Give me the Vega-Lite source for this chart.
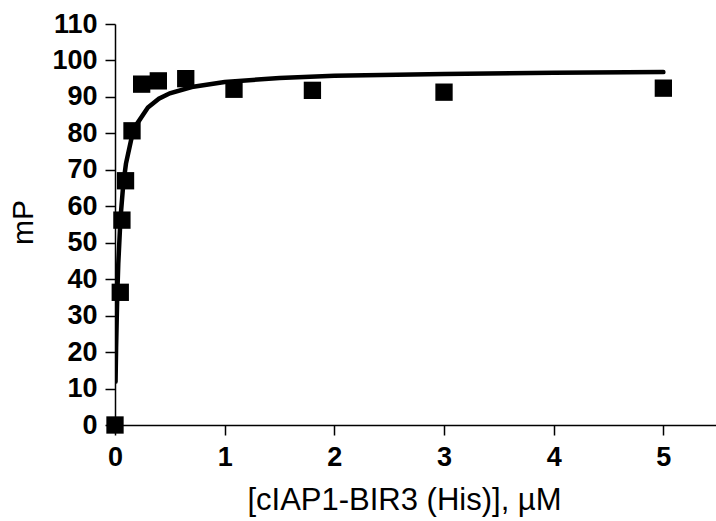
{
  "$schema": "https://vega.github.io/schema/vega-lite/v6.json",
  "autosize": "none",
  "width": 601,
  "height": 401,
  "padding": {"left": 115, "top": 24, "right": 0, "bottom": 96},
  "background": "white",
  "config": {
    "view": {"stroke": null},
    "axis": {"grid": false, "domainColor": "black", "tickColor": "black", "labelColor": "black", "titleColor": "black", "labelFont": "Liberation Sans", "titleFont": "Liberation Sans"}
  },
  "datasets": {
    "points": [
      {"conc": 0, "mP": 0},
      {"conc": 0.048, "mP": 36.4},
      {"conc": 0.063, "mP": 56.2},
      {"conc": 0.096, "mP": 67.0},
      {"conc": 0.155, "mP": 80.7},
      {"conc": 0.243, "mP": 93.5},
      {"conc": 0.395, "mP": 94.4},
      {"conc": 0.645, "mP": 95.0},
      {"conc": 1.085, "mP": 92.1},
      {"conc": 1.8, "mP": 91.8},
      {"conc": 3.0, "mP": 91.3},
      {"conc": 5.0, "mP": 92.4}
    ],
    "curve": [
      {"conc": 0.005, "mP": 11.9},
      {"conc": 0.01, "mP": 21.2},
      {"conc": 0.02, "mP": 34.8},
      {"conc": 0.03, "mP": 44.3},
      {"conc": 0.05, "mP": 56.7},
      {"conc": 0.075, "mP": 65.9},
      {"conc": 0.1, "mP": 71.7},
      {"conc": 0.15, "mP": 78.6},
      {"conc": 0.2, "mP": 82.6},
      {"conc": 0.3, "mP": 87.1},
      {"conc": 0.4, "mP": 89.5},
      {"conc": 0.5, "mP": 91.0},
      {"conc": 0.7, "mP": 92.7},
      {"conc": 1.0, "mP": 94.1},
      {"conc": 1.5, "mP": 95.2},
      {"conc": 2.0, "mP": 95.8},
      {"conc": 3.0, "mP": 96.3},
      {"conc": 4.0, "mP": 96.6},
      {"conc": 5.0, "mP": 96.8}
    ]
  },
  "encoding": {
    "x": {
      "field": "conc", "type": "quantitative",
      "scale": {"domain": [0, 5.48], "nice": false},
      "axis": {
        "values": [0, 1, 2, 3, 4, 5], "format": "d",
        "title": "[cIAP1-BIR3 (His)], µM",
        "titleFontSize": 31, "titleFontWeight": "normal",
        "titleX": 289, "titleY": 84, "titleBaseline": "alphabetic", "titleAnchor": null,
        "labelFontSize": 27, "labelFontWeight": "bold", "labelOverlap": false, "labelBound": false,
        "labelPadding": 9, "tickSize": 10, "tickWidth": 1.5, "domainWidth": 1.5,
        "labelFlush": false
      }
    },
    "y": {
      "field": "mP", "type": "quantitative",
      "scale": {"domain": [0, 110], "nice": false, "zero": true},
      "axis": {
        "values": [0, 10, 20, 30, 40, 50, 60, 70, 80, 90, 100, 110],
        "format": "d",
        "title": "mP",
        "titleFontSize": 30, "titleFontWeight": "normal",
        "titleX": -83, "titleY": 198, "titleAngle": -90, "titleBaseline": "alphabetic", "titleAlign": "center",
        "labelFontSize": 27, "labelFontWeight": "bold", "labelOverlap": false, "labelSeparation": 0, "labelFlush": false, "labelBound": false,
        "labelPadding": 8, "tickSize": 10, "tickWidth": 1.5, "domainWidth": 1.5
      }
    }
  },
  "layer": [
    {
      "data": {"name": "curve"},
      "mark": {"type": "line", "color": "black", "strokeWidth": 4.5, "strokeCap": "round", "clip": true}
    },
    {
      "data": {"name": "points"},
      "mark": {"type": "point", "shape": "square", "filled": true, "color": "black", "opacity": 1, "size": 300, "clip": false}
    }
  ]
}
